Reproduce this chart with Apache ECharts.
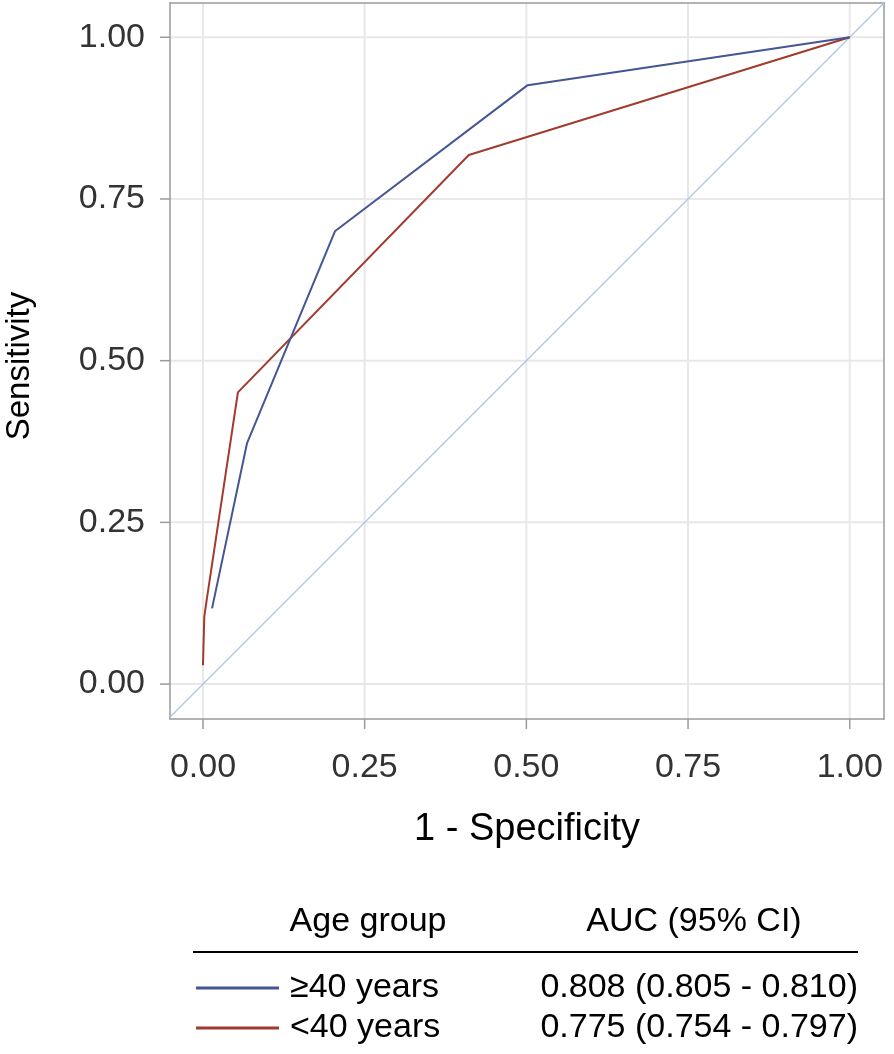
<!DOCTYPE html>
<html>
<head>
<meta charset="utf-8">
<script src="https://cdn.jsdelivr.net/npm/echarts@6/dist/echarts.min.js"></script>
<style>
  html, body { margin: 0; padding: 0; background: #fff; }
  #chart { width: 894px; height: 1054px; }
</style>
</head>
<body>
<div id="chart"></div>
<script>
// ---- data ----
var seriesNames = ['\u226540 years', '<40 years'];
var aucLabels = ['0.808 (0.805 - 0.810)', '0.775 (0.754 - 0.797)'];
var xOld = [0.014, 0.068, 0.204, 0.502, 1.0];
var yOld = [0.117, 0.372, 0.700, 0.926, 1.0];
var xYoung = [0.0, 0.002, 0.005, 0.054, 0.411, 1.0];
var yYoung = [0.029, 0.104, 0.125, 0.451, 0.818, 1.0];
var refX = [-0.06, 1.06];
var refY = [-0.06, 1.06];
var tickValues = [0, 0.25, 0.5, 0.75, 1.0];
var tickLabels = ['0.00', '0.25', '0.50', '0.75', '1.00'];
var xTitle = '1 - Specificity';
var yTitle = 'Sensitivity';
var tableHeaders = ['Age group', 'AUC (95% CI)'];

function zip(xs, ys) { return xs.map(function (x, i) { return [x, ys[i]]; }); }
function fmt(v) { var i = tickValues.indexOf(v); return i >= 0 ? tickLabels[i] : ''; }

var FONT = "'Liberation Sans', Arial, Helvetica, sans-serif";
var BLUE = '#445694';
var RED = '#A23A2E';
var FRAME = '#9a9a9a';
var GRIDC = '#e8e8e8';
var XMIN = -0.051, XMAX = 1.053, YMIN = -0.054, YMAX = 1.053;
var TICK_LEN = 10;

var chart = echarts.init(document.getElementById('chart'));

function mainAxis(min, max, margin) {
  return {
    type: 'value', min: min, max: max,
    axisLine: { show: true, onZero: false, lineStyle: { color: FRAME, width: 1.5 } },
    axisTick: { show: false },
    axisLabel: { show: true, customValues: tickValues, formatter: fmt, margin: margin,
      fontFamily: FONT, fontSize: 34, color: '#333333' },
    splitLine: { show: false }
  };
}
function frameAxis(min, max, pos) {
  return {
    type: 'value', min: min, max: max, position: pos,
    axisLine: { show: true, onZero: false, lineStyle: { color: FRAME, width: 1.5 } },
    axisTick: { show: false }, axisLabel: { show: false }, splitLine: { show: false }
  };
}

var xAx = mainAxis(XMIN, XMAX, 32);
xAx.position = 'bottom';
xAx.name = xTitle; xAx.nameLocation = 'middle'; xAx.nameGap = 92;
xAx.nameTextStyle = { fontFamily: FONT, fontSize: 38, color: '#000' };
var yAx = mainAxis(YMIN, YMAX, 25);
yAx.position = 'left';

// gridlines and outward tick marks at the tick values, placed through the axes' scales
function renderGridTicks(params, api) {
  var v = api.value(0);
  var bx = api.coord([v, YMIN]);   // bottom end of vertical gridline
  var tx = api.coord([v, YMAX]);   // top end
  var ly = api.coord([XMIN, v]);   // left end of horizontal gridline
  var ry = api.coord([XMAX, v]);   // right end
  var gs = { stroke: GRIDC, lineWidth: 2 };
  var ts = { stroke: FRAME, lineWidth: 1.5 };
  return {
    type: 'group',
    children: [
      { type: 'line', shape: { x1: bx[0], y1: bx[1], x2: tx[0], y2: tx[1] }, style: gs },
      { type: 'line', shape: { x1: ly[0], y1: ly[1], x2: ry[0], y2: ry[1] }, style: gs },
      { type: 'line', shape: { x1: bx[0], y1: bx[1], x2: bx[0], y2: bx[1] + TICK_LEN }, style: ts },
      { type: 'line', shape: { x1: ly[0] - TICK_LEN, y1: ly[1], x2: ly[0], y2: ly[1] }, style: ts }
    ]
  };
}

chart.setOption({
  animation: false,
  backgroundColor: '#ffffff',
  grid: { left: 170, top: 3, right: 10, bottom: 335 },
  xAxis: [xAx, frameAxis(XMIN, XMAX, 'top')],
  yAxis: [yAx, frameAxis(YMIN, YMAX, 'right')],
  legend: {
    data: seriesNames.map(function (n) { return { name: n, icon: 'rect' }; }),
    orient: 'vertical', left: 196, top: 971, padding: 0,
    itemWidth: 83, itemHeight: 3, itemGap: 6, selectedMode: false,
    textStyle: { fontFamily: FONT, fontSize: 34, color: '#000', lineHeight: 34, padding: [0, 0, 0, 6] }
  },
  graphic: [
    { type: 'text', x: 20, y: 366, rotation: Math.PI / 2,
      style: { text: yTitle, fontFamily: FONT, fontSize: 33, fill: '#000', align: 'center', verticalAlign: 'middle' } },
    { type: 'text', x: 368, y: 922,
      style: { text: tableHeaders[0], fontFamily: FONT, fontSize: 34, fill: '#000', align: 'center', verticalAlign: 'middle' } },
    { type: 'text', x: 694, y: 922,
      style: { text: tableHeaders[1], fontFamily: FONT, fontSize: 34, fill: '#000', align: 'center', verticalAlign: 'middle' } },
    { type: 'line', shape: { x1: 193, y1: 952, x2: 858, y2: 952 }, style: { stroke: '#000', lineWidth: 2 } },
    { type: 'text', x: 858, y: 988,
      style: { text: aucLabels[0], fontFamily: FONT, fontSize: 34, fill: '#000', align: 'right', verticalAlign: 'middle' } },
    { type: 'text', x: 858, y: 1028,
      style: { text: aucLabels[1], fontFamily: FONT, fontSize: 34, fill: '#000', align: 'right', verticalAlign: 'middle' } }
  ],
  series: [
    { name: 'grid-ticks', type: 'custom', coordinateSystem: 'cartesian2d', clip: false, silent: true,
      data: zip(tickValues, tickValues), encode: { x: 0, y: 1 }, renderItem: renderGridTicks, z: 0 },
    { name: 'reference', type: 'line', data: zip(refX, refY), showSymbol: false, symbol: 'none',
      lineStyle: { color: '#a8c0e8', width: 1.2 }, silent: true, z: 1 },
    { name: seriesNames[0], type: 'line', data: zip(xOld, yOld), symbol: 'none',
      itemStyle: { color: BLUE }, lineStyle: { color: BLUE, width: 2 }, z: 3 },
    { name: seriesNames[1], type: 'line', data: zip(xYoung, yYoung), symbol: 'none',
      itemStyle: { color: RED }, lineStyle: { color: RED, width: 2 }, z: 2 }
  ]
});
</script>
</body>
</html>
